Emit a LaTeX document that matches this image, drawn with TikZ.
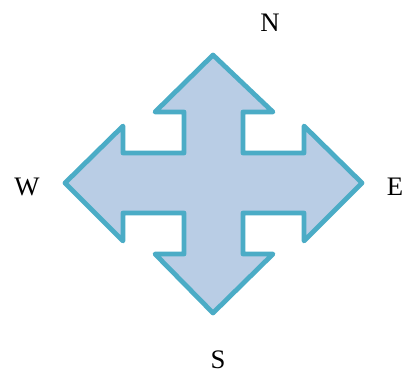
\documentclass[tikz,border=0pt]{standalone}
\usepackage{fontspec}
\setmainfont{Liberation Serif}
\usepackage{xcolor}
\usetikzlibrary{positioning}
\definecolor{arrfill}{HTML}{B9CDE5}
\definecolor{arrline}{HTML}{4BACC6}
\tikzset{
  cross/.style={fill=arrfill,draw=arrline,line width=3.4pt,line join=round},
  lbl/.style={font=\fontsize{19}{22}\selectfont,inner sep=0pt}
}
\begin{document}
\begin{tikzpicture}[x=0.025cm,y=-0.025cm]
\useasboundingbox (0,0) rectangle (404,375);
% four-way arrow
\draw[cross] (213,55) -- (273,112) -- (243,112) -- (243,153) -- (304,153) -- (304,126)
  -- (362,183) -- (304,241) -- (304,213) -- (243,213) -- (243,254) -- (273,254)
  -- (213,313) -- (155,254) -- (184,254) -- (184,213) -- (123,213) -- (123,241)
  -- (65,183) -- (123,126) -- (123,153) -- (184,153) -- (184,112) -- (155,112) -- cycle;
\node[lbl] (north) at (270,23) {N};
\node[lbl] (east) at (395,187) {E};
\node[lbl] (west) at (27,187) {W};
\node[lbl] (south) at (218,360) {S};
\end{tikzpicture}
\end{document}
